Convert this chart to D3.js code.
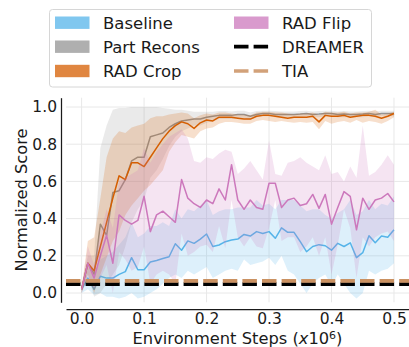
<!DOCTYPE html>
<html>
<head>
<meta charset="utf-8">
<script src="https://cdn.jsdelivr.net/npm/d3@7"></script>
<style>
  body { margin: 0; background: #fff; }
  text { font-family: "DejaVu Sans", sans-serif; fill: #1a1a1a; }
</style>
</head>
<body>
<script>
// environment steps (x10^6)
var steps = [0, 0.01, 0.02, 0.03, 0.04, 0.05, 0.06, 0.07, 0.08, 0.09,
  0.10, 0.11, 0.12, 0.13, 0.14, 0.15, 0.16, 0.17, 0.18, 0.19,
  0.20, 0.21, 0.22, 0.23, 0.24, 0.25, 0.26, 0.27, 0.28, 0.29,
  0.30, 0.31, 0.32, 0.33, 0.34, 0.35, 0.36, 0.37, 0.38, 0.39,
  0.40, 0.41, 0.42, 0.43, 0.44, 0.45, 0.46, 0.47, 0.48, 0.49, 0.50];

// Baseline
var baseMean = [0.02, 0.08, 0.02, 0.09, 0.08, 0.08, 0.10, 0.115, 0.19, 0.125,
  0.125, 0.167, 0.175, 0.185, 0.195, 0.265, 0.23, 0.28, 0.267, 0.29,
  0.317, 0.25, 0.258, 0.276, 0.285, 0.29, 0.315, 0.306, 0.33, 0.32,
  0.33, 0.294, 0.35, 0.326, 0.326, 0.276, 0.222, 0.25, 0.26, 0.254,
  0.23, 0.267, 0.25, 0.27, 0.19, 0.217, 0.308, 0.27, 0.306, 0.30, 0.34];
var baseLow = [0.0, 0.02, -0.01, 0.0, -0.02, -0.02, -0.03, -0.02, 0.0, -0.03,
  -0.02, 0.0, 0.02, 0.05, 0.08, 0.10, 0.08, 0.12, 0.10, 0.12,
  0.14, 0.08, 0.10, 0.12, 0.13, 0.12, 0.18, 0.15, 0.16, 0.17,
  0.19, 0.15, 0.20, 0.12, 0.10, 0.05, 0.0, 0.05, 0.08, 0.10,
  0.04, 0.10, 0.05, 0.0, -0.03, 0.0, 0.12, 0.10, 0.12, 0.13, 0.16];
var baseHigh = [0.04, 0.14, 0.08, 0.18, 0.20, 0.22, 0.26, 0.30, 0.38, 0.30,
  0.32, 0.36, 0.36, 0.38, 0.36, 0.45, 0.40, 0.45, 0.44, 0.47,
  0.50, 0.42, 0.44, 0.45, 0.45, 0.46, 0.46, 0.46, 0.50, 0.47,
  0.48, 0.45, 0.50, 0.50, 0.50, 0.47, 0.44, 0.45, 0.45, 0.42,
  0.40, 0.43, 0.45, 0.50, 0.42, 0.44, 0.50, 0.45, 0.48, 0.47, 0.52];

// Part Recons
var partMean = [0.02, 0.16, 0.10, 0.37, 0.31, 0.54, 0.55, 0.61, 0.71, 0.73,
  0.73, 0.84, 0.85, 0.86, 0.89, 0.91, 0.925, 0.93, 0.935, 0.935,
  0.945, 0.95, 0.955, 0.955, 0.955, 0.96, 0.96, 0.95, 0.96, 0.965,
  0.965, 0.96, 0.96, 0.96, 0.96, 0.962, 0.965, 0.96, 0.962, 0.965,
  0.965, 0.96, 0.962, 0.96, 0.96, 0.962, 0.965, 0.96, 0.965, 0.965, 0.965];
var partLow = [0.0, 0.10, -0.02, 0.0, 0.05, 0.10, 0.15, 0.25, 0.38, 0.45,
  0.50, 0.62, 0.66, 0.72, 0.79, 0.84, 0.87, 0.885, 0.90, 0.90,
  0.915, 0.925, 0.935, 0.935, 0.935, 0.94, 0.94, 0.93, 0.945, 0.95,
  0.95, 0.945, 0.945, 0.945, 0.945, 0.945, 0.95, 0.945, 0.945, 0.95,
  0.95, 0.945, 0.945, 0.945, 0.945, 0.945, 0.95, 0.945, 0.95, 0.95, 0.95];
var partHigh = [0.04, 0.20, 0.20, 0.78, 0.90, 0.985, 0.995, 0.995, 1.0, 1.0,
  1.0, 1.0, 1.0, 0.995, 0.99, 0.985, 0.985, 0.98, 0.975, 0.975,
  0.975, 0.975, 0.978, 0.978, 0.976, 0.98, 0.98, 0.97, 0.978, 0.98,
  0.98, 0.978, 0.976, 0.976, 0.976, 0.978, 0.98, 0.976, 0.978, 0.98,
  0.98, 0.976, 0.978, 0.976, 0.976, 0.978, 0.98, 0.976, 0.98, 0.98, 0.98];

// RAD Crop
var cropMean = [0.02, 0.16, 0.12, 0.25, 0.38, 0.51, 0.63, 0.61, 0.70, 0.70,
  0.68, 0.73, 0.78, 0.83, 0.87, 0.90, 0.92, 0.91, 0.885, 0.915,
  0.93, 0.925, 0.945, 0.945, 0.945, 0.94, 0.935, 0.935, 0.95, 0.955,
  0.955, 0.95, 0.945, 0.94, 0.945, 0.945, 0.945, 0.95, 0.92, 0.955,
  0.95, 0.95, 0.955, 0.945, 0.95, 0.955, 0.955, 0.95, 0.94, 0.95, 0.965];
var cropLow = [0.0, 0.10, 0.0, 0.10, 0.19, 0.28, 0.33, 0.42, 0.47, 0.51,
  0.55, 0.58, 0.62, 0.66, 0.76, 0.81, 0.85, 0.84, 0.83, 0.87,
  0.885, 0.89, 0.91, 0.92, 0.92, 0.915, 0.91, 0.91, 0.925, 0.93,
  0.925, 0.92, 0.925, 0.92, 0.915, 0.92, 0.915, 0.92, 0.88, 0.925,
  0.91, 0.92, 0.925, 0.915, 0.93, 0.915, 0.925, 0.92, 0.91, 0.925, 0.945];
var cropHigh = [0.03, 0.28, 0.30, 0.51, 0.73, 0.83, 0.87, 0.86, 0.89, 0.90,
  0.91, 0.94, 0.95, 0.95, 0.96, 0.965, 0.97, 0.965, 0.94, 0.955,
  0.965, 0.96, 0.97, 0.97, 0.965, 0.96, 0.96, 0.955, 0.97, 0.975,
  0.975, 0.97, 0.97, 0.965, 0.96, 0.965, 0.965, 0.97, 0.955, 0.975,
  0.97, 0.97, 0.975, 0.965, 0.97, 0.97, 0.975, 0.985, 0.96, 0.965, 0.975];

// RAD Flip
var flipMean = [0.02, 0.16, 0.08, 0.20, 0.31, 0.16, 0.42, 0.39, 0.37, 0.39,
  0.52, 0.33, 0.42, 0.44, 0.41, 0.38, 0.61, 0.51, 0.48, 0.46,
  0.50, 0.48, 0.56, 0.50, 0.69, 0.50, 0.45, 0.50, 0.46, 0.45,
  0.59, 0.59, 0.46, 0.50, 0.51, 0.47, 0.48, 0.53, 0.455, 0.53,
  0.37, 0.46, 0.545, 0.52, 0.34, 0.51, 0.45, 0.50, 0.51, 0.535, 0.49];
var flipLow = [0.0, 0.08, 0.02, 0.08, 0.15, 0.0, 0.22, 0.18, 0.12, 0.14,
  0.25, 0.05, 0.10, 0.12, 0.10, 0.05, 0.32, 0.20, 0.22, 0.25,
  0.26, 0.22, 0.36, 0.24, 0.50, 0.30, 0.25, 0.30, 0.25, 0.24,
  0.35, 0.50, 0.28, 0.30, 0.30, 0.22, 0.25, 0.30, 0.20, 0.30,
  0.10, 0.26, 0.45, 0.35, 0.08, 0.30, 0.25, 0.30, 0.32, 0.33, 0.28];
var flipHigh = [0.03, 0.25, 0.15, 0.32, 0.45, 0.35, 0.60, 0.62, 0.64, 0.66,
  0.78, 0.70, 0.76, 0.80, 0.84, 0.86, 0.88, 0.83, 0.71, 0.70,
  0.73, 0.72, 0.75, 0.77, 0.76, 0.64, 0.67, 0.71, 0.66, 0.61,
  0.82, 0.64, 0.63, 0.70, 0.71, 0.73, 0.70, 0.68, 0.66, 0.74,
  0.64, 0.65, 0.60, 0.68, 0.62, 0.90, 0.63, 0.65, 0.69, 0.74, 0.69];

// constant references
var dreamerScore = 0.048;
var tiaScore = 0.065;

var xTicks = [0, 0.1, 0.2, 0.3, 0.4, 0.5];
var yTicks = [0, 0.2, 0.4, 0.6, 0.8, 1.0];

var series = [
  {name: "Baseline", color: "#56b4e9", mean: baseMean, low: baseLow, high: baseHigh},
  {name: "Part Recons", color: "#949494", mean: partMean, low: partLow, high: partHigh},
  {name: "RAD Crop", color: "#d55e00", mean: cropMean, low: cropLow, high: cropHigh},
  {name: "RAD Flip", color: "#cc78bc", mean: flipMean, low: flipLow, high: flipHigh}
];
var refs = [
  {name: "DREAMER", color: "#000000", value: dreamerScore},
  {name: "TIA", color: "#ca9161", value: tiaScore}
];

var W = 409, H = 347;
var plot = {left: 66, right: 409.6, top: 97.7, bottom: 302.3};

var svg = d3.select("body").append("svg")
    .attr("width", W)
    .attr("height", H);

var x = d3.scaleLinear().domain([-0.025, 0.525]).range([plot.left, plot.right]);
var y = d3.scaleLinear().domain([-0.05, 1.05]).range([plot.bottom, plot.top]);

svg.append("clipPath").attr("id", "clip")
  .append("rect")
    .attr("x", plot.left).attr("y", plot.top)
    .attr("width", plot.right - plot.left)
    .attr("height", plot.bottom - plot.top);

// grid
var grid = svg.append("g");
grid.selectAll("line.gx").data(xTicks).enter().append("line")
    .attr("x1", d => x(d)).attr("x2", d => x(d))
    .attr("y1", plot.top).attr("y2", plot.bottom)
    .attr("stroke", "#e8e8e8").attr("stroke-width", 1);
grid.selectAll("line.gy").data(yTicks).enter().append("line")
    .attr("x1", plot.left).attr("x2", plot.right)
    .attr("y1", d => y(d)).attr("y2", d => y(d))
    .attr("stroke", "#e8e8e8").attr("stroke-width", 1);

var body = svg.append("g").attr("clip-path", "url(#clip)");

series.forEach(function(s) {
  var area = d3.area()
      .x((d, i) => x(steps[i]))
      .y0((d, i) => y(s.low[i]))
      .y1((d, i) => y(s.high[i]));
  var line = d3.line()
      .x((d, i) => x(steps[i]))
      .y(d => y(d));
  body.append("path")
      .attr("d", area(s.mean))
      .attr("fill", s.color)
      .attr("fill-opacity", 0.2);
  body.append("path")
      .attr("d", line(s.mean))
      .attr("fill", "none")
      .attr("stroke", s.color)
      .attr("stroke-width", 1.5)
      .attr("stroke-linejoin", "round");
});

refs.forEach(function(r) {
  body.append("line")
      .attr("x1", plot.left).attr("x2", plot.right)
      .attr("y1", y(r.value)).attr("y2", y(r.value))
      .attr("stroke", r.color)
      .attr("stroke-width", 3.7)
      .attr("stroke-dasharray", "14.5,5.1");
});

// axes (offset spines)
var yAxis = svg.append("g")
    .attr("transform", "translate(61,0)")
    .call(d3.axisLeft(y).tickValues(yTicks).tickFormat(d3.format(".1f"))
      .tickSize(0).tickPadding(4));
var xAxis = svg.append("g")
    .attr("transform", "translate(0,309)")
    .call(d3.axisBottom(x).tickValues(xTicks).tickFormat(d3.format(".1f"))
      .tickSize(0).tickPadding(3.5));
[xAxis, yAxis].forEach(function(a) {
  a.select(".domain").attr("stroke", "#1a1a1a").attr("stroke-width", 1.25);
  a.selectAll("text").style("font-size", "15.5px").attr("fill", "#1a1a1a")
    .style("font-family", "'DejaVu Sans', sans-serif");
});

// axis labels
svg.append("text")
    .attr("transform", "translate(27,200) rotate(-90)")
    .attr("text-anchor", "middle")
    .style("font-size", "16.3px")
    .text("Normalized Score");

var xl = svg.append("text")
    .attr("x", 237.5).attr("y", 343.5)
    .attr("text-anchor", "middle")
    .style("font-size", "16.3px");
xl.append("tspan").text("Environment Steps (");
xl.append("tspan").style("font-style", "italic").text("x");
xl.append("tspan").text("10");
xl.append("tspan").attr("dy", -5).style("font-size", "11px").text("6");
xl.append("tspan").attr("dy", 5).text(")");

// legend
var leg = svg.append("g");
leg.append("rect")
    .attr("x", 49.5).attr("y", 9.5).attr("width", 322).attr("height", 77.5)
    .attr("rx", 3)
    .attr("fill", "#fff").attr("stroke", "#d6d6d6").attr("stroke-width", 1);

var rowY = [22.7, 46.7, 71];
var legItems = series.map(s => ({name: s.name, color: s.color, kind: "patch"}))
  .concat(refs.map(r => ({name: r.name, color: r.color, kind: "dash"})));

legItems.forEach(function(item, k) {
  var col = Math.floor(k / 3), row = k % 3;
  var px = col === 0 ? 55 : 234;
  var tx = col === 0 ? 103 : 282;
  var cy = rowY[row];
  if (item.kind === "patch") {
    leg.append("rect")
        .attr("x", px).attr("y", cy - 6.2)
        .attr("width", 34.5).attr("height", 12.4)
        .attr("fill", item.color).attr("fill-opacity", 0.75);
  } else {
    leg.append("line")
        .attr("x1", px).attr("x2", px + 34.5)
        .attr("y1", cy).attr("y2", cy)
        .attr("stroke", item.color)
        .attr("stroke-opacity", item.name === "TIA" ? 0.85 : 1)
        .attr("stroke-width", 3.7)
        .attr("stroke-dasharray", "14.5,5.1");
  }
  leg.append("text")
      .attr("x", tx).attr("y", cy)
      .attr("dy", "0.36em")
      .style("font-size", "16.5px")
      .text(item.name);
});
</script>
</body>
</html>
